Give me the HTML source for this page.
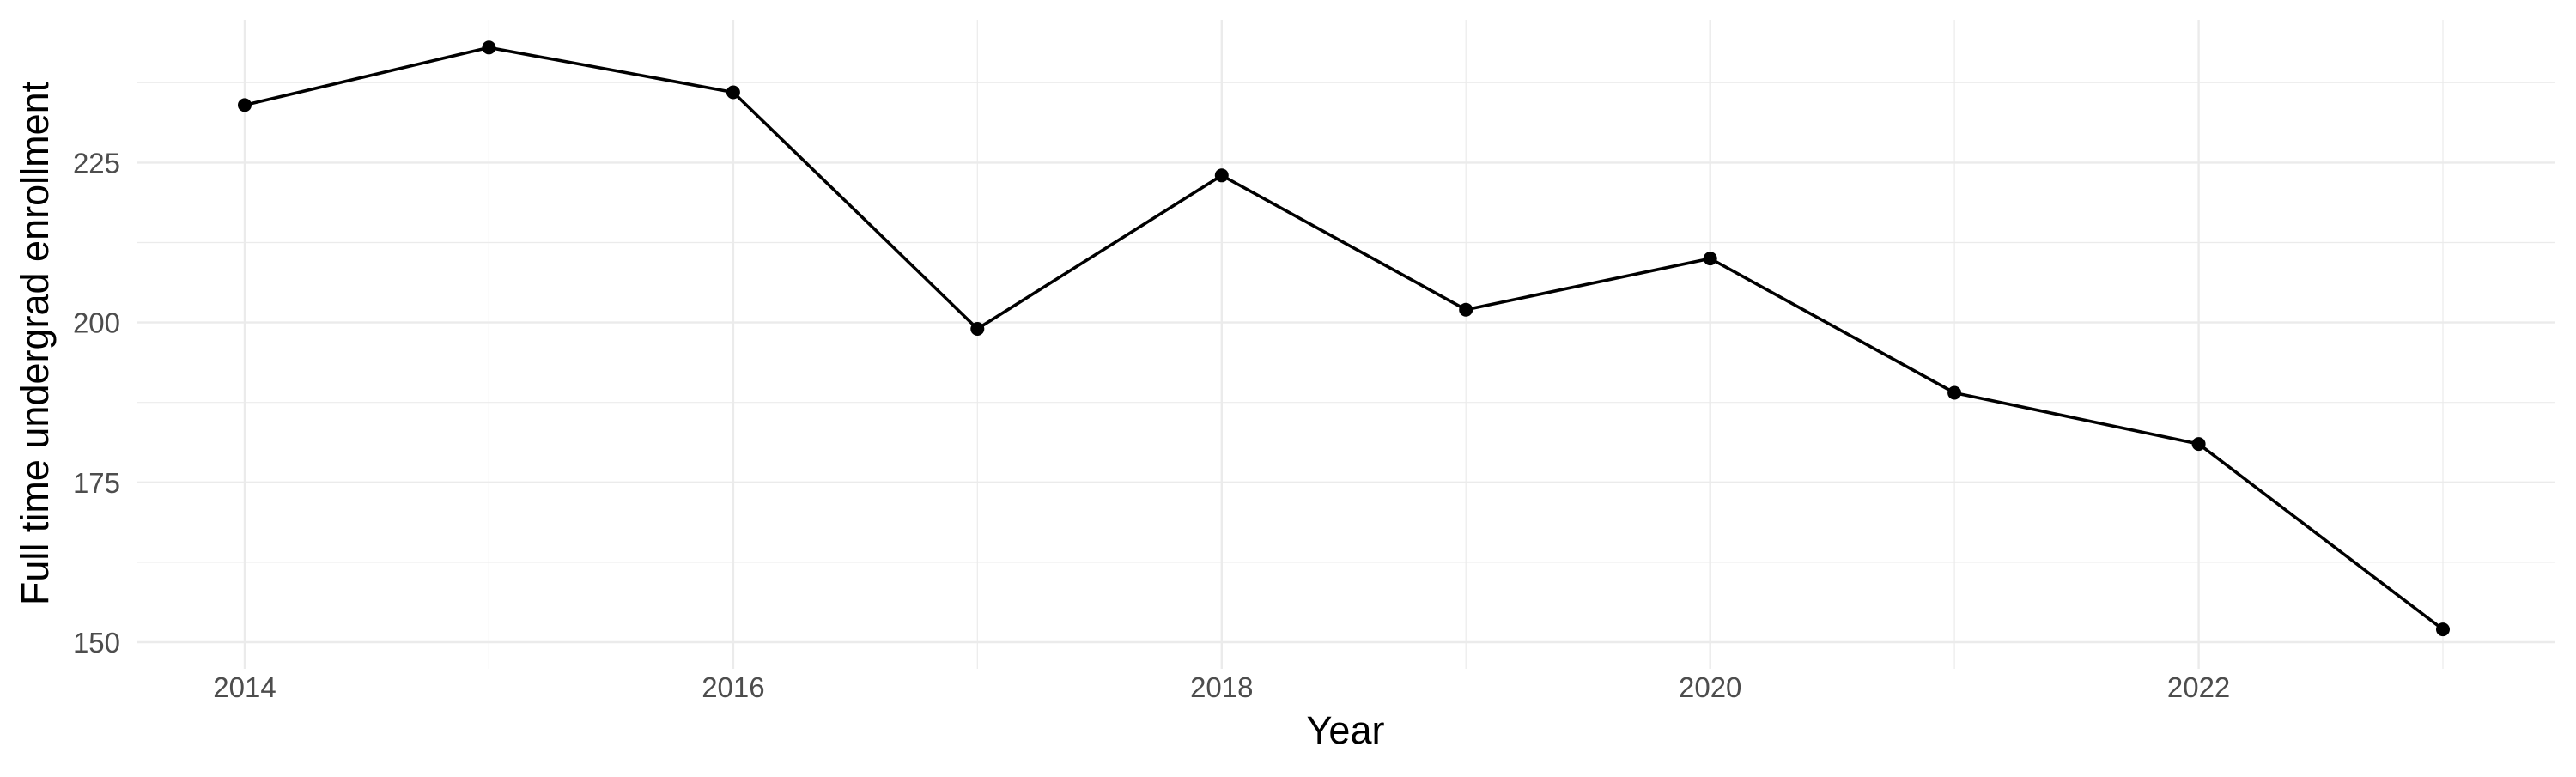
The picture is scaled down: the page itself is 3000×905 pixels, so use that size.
<!DOCTYPE html>
<html><head><meta charset="utf-8"><style>html,body{margin:0;padding:0;background:#fff}</style></head>
<body>
<svg width="3000" height="900" viewBox="0 0 3000 900" xmlns="http://www.w3.org/2000/svg" font-family="Liberation Sans, sans-serif">
<rect width="3000" height="900" fill="#fff"/>
<g stroke="#ebebeb" stroke-width="1.2">
<line x1="159" x2="2975" y1="654.9" y2="654.9"/>
<line x1="159" x2="2975" y1="468.7" y2="468.7"/>
<line x1="159" x2="2975" y1="282.5" y2="282.5"/>
<line x1="159" x2="2975" y1="96.3" y2="96.3"/>
<line x1="569.4" x2="569.4" y1="23" y2="779"/>
<line x1="1138.3" x2="1138.3" y1="23" y2="779"/>
<line x1="1707.2" x2="1707.2" y1="23" y2="779"/>
<line x1="2276.1" x2="2276.1" y1="23" y2="779"/>
<line x1="2845" x2="2845" y1="23" y2="779"/>
</g>
<g stroke="#ebebeb" stroke-width="2.4">
<line x1="159" x2="2975" y1="748" y2="748"/>
<line x1="159" x2="2975" y1="561.8" y2="561.8"/>
<line x1="159" x2="2975" y1="375.6" y2="375.6"/>
<line x1="159" x2="2975" y1="189.4" y2="189.4"/>
<line x1="285" x2="285" y1="23" y2="779"/>
<line x1="853.9" x2="853.9" y1="23" y2="779"/>
<line x1="1422.8" x2="1422.8" y1="23" y2="779"/>
<line x1="1991.7" x2="1991.7" y1="23" y2="779"/>
<line x1="2560.6" x2="2560.6" y1="23" y2="779"/>
</g>
<polyline fill="none" stroke="#000" stroke-width="3.6" points="285,122.4 569.4,55.3 853.9,107.5 1138.3,383 1422.8,204.3 1707.2,360.7 1991.7,301.1 2276.1,457.5 2560.6,517.1 2845,733.1"/>
<g fill="#000">
<circle cx="285" cy="122.4" r="8"/><circle cx="569.4" cy="55.3" r="8"/><circle cx="853.9" cy="107.5" r="8"/><circle cx="1138.3" cy="383" r="8"/><circle cx="1422.8" cy="204.3" r="8"/><circle cx="1707.2" cy="360.7" r="8"/><circle cx="1991.7" cy="301.1" r="8"/><circle cx="2276.1" cy="457.5" r="8"/><circle cx="2560.6" cy="517.1" r="8"/><circle cx="2845" cy="733.1" r="8"/>
</g>
<g fill="#4d4d4d" font-size="33" text-anchor="end">
<text x="140" y="760">150</text><text x="140" y="573.8">175</text><text x="140" y="387.6">200</text><text x="140" y="201.4">225</text>
</g>
<g fill="#4d4d4d" font-size="33" text-anchor="middle">
<text x="285" y="812">2014</text><text x="853.9" y="812">2016</text><text x="1422.8" y="812">2018</text><text x="1991.7" y="812">2020</text><text x="2560.6" y="812">2022</text>
</g>
<text x="1567" y="866" font-size="45" text-anchor="middle" fill="#000">Year</text>
<text transform="translate(56,400) rotate(-90)" font-size="45" text-anchor="middle" fill="#000">Full time undergrad enrollment</text>
</svg>
</body></html>
